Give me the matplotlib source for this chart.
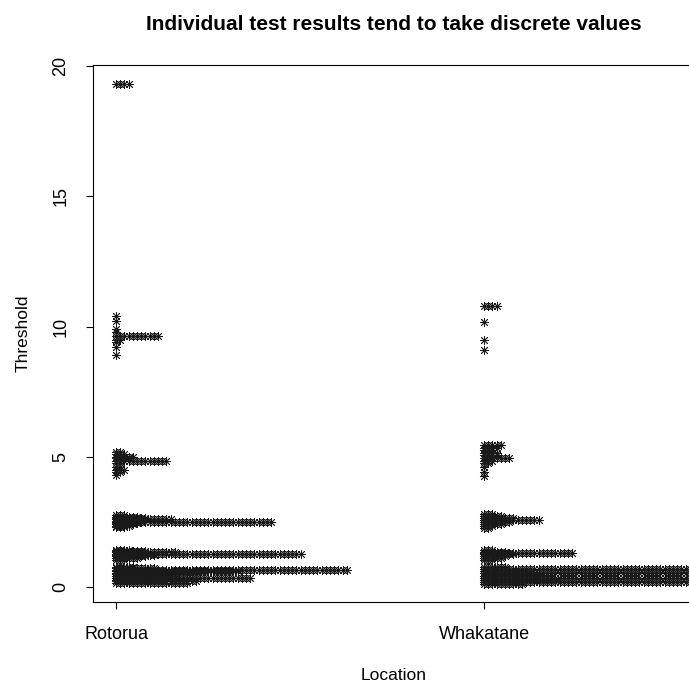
import numpy as np
import matplotlib.pyplot as plt

plt.rcParams['font.family'] = ['Liberation Sans', 'DejaVu Sans']

locations = ['Rotorua', 'Whakatane']

# threshold values and how many tests gave each value
rotorua_values = [19.3,
                  10.4, 10.2, 9.9, 9.8, 9.64, 9.5, 9.4, 9.2, 8.9,
                  5.2, 5.1, 5.0, 4.95, 4.84, 4.75, 4.6, 4.5, 4.4, 4.3,
                  2.75, 2.7, 2.65, 2.6, 2.55, 2.49, 2.45, 2.4, 2.35, 2.3,
                  1.42, 1.38, 1.33, 1.27, 1.22, 1.18, 1.12, 1.05,
                  0.78, 0.72, 0.65, 0.6, 0.55, 0.48, 0.42, 0.35, 0.28, 0.22, 0.15]
rotorua_counts = [4,
                  1, 1, 1, 1, 11, 2, 1, 1, 1,
                  2, 3, 5, 4, 13, 2, 2, 3, 2, 1,
                  3, 6, 8, 14, 7, 38, 6, 5, 4, 3,
                  4, 8, 15, 45, 10, 8, 6, 3,
                  5, 10, 56, 30, 12, 20, 15, 33, 12, 20, 18]

whakatane_values = [10.8, 10.17, 9.5, 9.1,
                    5.45, 5.35, 5.25, 5.15, 5.05, 4.95, 4.85, 4.75, 4.6, 4.4, 4.25,
                    2.8, 2.72, 2.65, 2.57, 2.5, 2.42, 2.35, 2.28,
                    1.42, 1.36, 1.3, 1.25, 1.18, 1.12, 1.05,
                    0.78, 0.68, 0.6, 0.52, 0.44, 0.36, 0.28, 0.2, 0.12]
whakatane_counts = [4, 1, 1, 1,
                    5, 4, 3, 4, 4, 7, 3, 2, 1, 1, 1,
                    3, 5, 8, 14, 7, 5, 3, 2,
                    3, 6, 22, 8, 6, 5, 3,
                    6, 60, 12, 70, 14, 75, 18, 65, 10]

# horizontal spacing between stacked points with the same value
offset = 0.0114

fig = plt.figure(figsize=(6.89, 6.84), dpi=100)
ax = fig.add_axes([93/689, 82/684, 602/689, 537/684])

for i, (vals, cnts) in enumerate([(rotorua_values, rotorua_counts),
                                  (whakatane_values, whakatane_counts)]):
    for v, c in zip(vals, cnts):
        xs = (i + 1) + offset * np.arange(c)
        ax.plot(xs, np.full(c, v), linestyle='none', marker=(8, 2, 0),
                markersize=6.5, markeredgewidth=0.6, color='#1a1a1a')

ax.set_xlim(0.9375, 2.573)
ax.set_ylim(-0.576, 20.04)

ax.set_xticks([1, 2])
ax.set_xticklabels(locations)
ax.set_yticks([0, 5, 10, 15, 20])
ax.set_yticklabels(['0', '5', '10', '15', '20'], rotation=90, va='center')
ax.tick_params(direction='out', length=5, width=0.8, labelsize=13, pad=12)

for s in ax.spines.values():
    s.set_linewidth(0.8)

ax.set_xlabel('Location', fontsize=12.5, labelpad=18)
ax.set_ylabel('Threshold', fontsize=12.5, labelpad=16)
ax.set_title('Individual test results tend to take discrete values',
             fontsize=15, fontweight='bold', pad=25)

fig.savefig('out.png', dpi=100)
